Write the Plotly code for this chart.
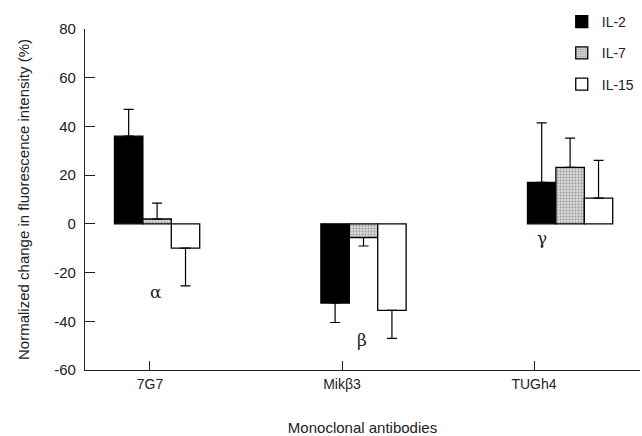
import plotly.graph_objects as go

# ---- data ----
antibodies = ["7G7", "Mikβ3", "TUGh4"]
tick_pos = [0, 1, 2]
group_pos = [0.037, 1.112, 2.188]      # group centres (slightly right of ticks, as in the source)
series_names = ["IL-2", "IL-7", "IL-15"]
il2 = [36, -32.5, 17]
il7 = [2, -5.6, 23.2]
il15 = [-10, -35.5, 10.6]
il2_err = [11, 8, 24.5]
il7_err = [6.5, 3.5, 12]
il15_err = [15.5, 11.5, 15.5]
greek = ["α", "β", "γ"]
greek_x = [0.031, 1.103, 2.04]
greek_y = [-27.8, -47.7, -5.8]
y_tick_vals = [-60, -40, -20, 0, 20, 40, 60, 80]
y_tick_text = ["-60", "-40", "-20", "0", "20", "40", "60", "80"]

bar_w = 0.148
offsets = [-bar_w, 0, bar_w]
values = [il2, il7, il15]
errors = [il2_err, il7_err, il15_err]

fig = go.Figure()
styles = [
    dict(color="black"),
    dict(color="#c8c8c8", pattern=dict(shape=".", fgcolor="#555", bgcolor="#d8d8d8",
                                       size=3, solidity=0.3)),
    dict(color="white"),
]
for name, vals, errs, off, st in zip(series_names, values, errors, offsets, styles):
    up = [e if v >= 0 else 0 for v, e in zip(vals, errs)]
    down = [e if v < 0 else 0 for v, e in zip(vals, errs)]
    fig.add_trace(go.Bar(
        x=[g + off for g in group_pos], y=vals, width=bar_w, name=name,
        legendgroup=name,
        marker=dict(line=dict(color="black", width=1.3), **st),
        error_y=dict(type="data", symmetric=False, array=up, arrayminus=down,
                     color="black", thickness=1.2, width=5),
    ))

for g, gx, gy in zip(greek, greek_x, greek_y):
    fig.add_annotation(x=gx, y=gy, text=g, showarrow=False,
                       font=dict(family="DejaVu Serif, serif", size=17, color="#222"))

fig.update_layout(
    width=642, height=436,
    margin=dict(l=85, r=2, t=29, b=66, autoexpand=False),
    plot_bgcolor="white", paper_bgcolor="white",
    barmode="overlay",
    font=dict(family="Liberation Sans, Arial, sans-serif", size=14, color="#222"),
    showlegend=True,
    legend=dict(xref="container", yref="container", x=0.875, y=0.986,
                xanchor="left", yanchor="top",
                bgcolor="rgba(0,0,0,0)", tracegroupgap=10,
                font=dict(size=14)),
    xaxis=dict(range=[-0.3385, 2.552], tickvals=tick_pos, ticktext=antibodies,
               ticks="inside", ticklen=9, tickcolor="#222", showline=True,
               linecolor="#222", linewidth=1.2, showgrid=False, zeroline=False,
               automargin=False, tickfont=dict(size=14), ticklabelstandoff=1,
               title=dict(text="Monoclonal antibodies", standoff=33, font=dict(size=15))),
    yaxis=dict(range=[-60, 80], tickvals=y_tick_vals, ticktext=y_tick_text,
               ticks="inside", ticklen=10, tickcolor="#222", showline=True,
               linecolor="#222", linewidth=1.2, showgrid=False, zeroline=False,
               automargin=False, ticklabelstandoff=5, tickfont=dict(size=15),
               title=dict(text="Normalized change in fluorescence intensity (%)",
                          standoff=20, font=dict(size=15))),
)

fig.write_html("out.html", config={"displayModeBar": False},
               post_script="document.body.style.margin='0';document.body.style.overflow='hidden';")
